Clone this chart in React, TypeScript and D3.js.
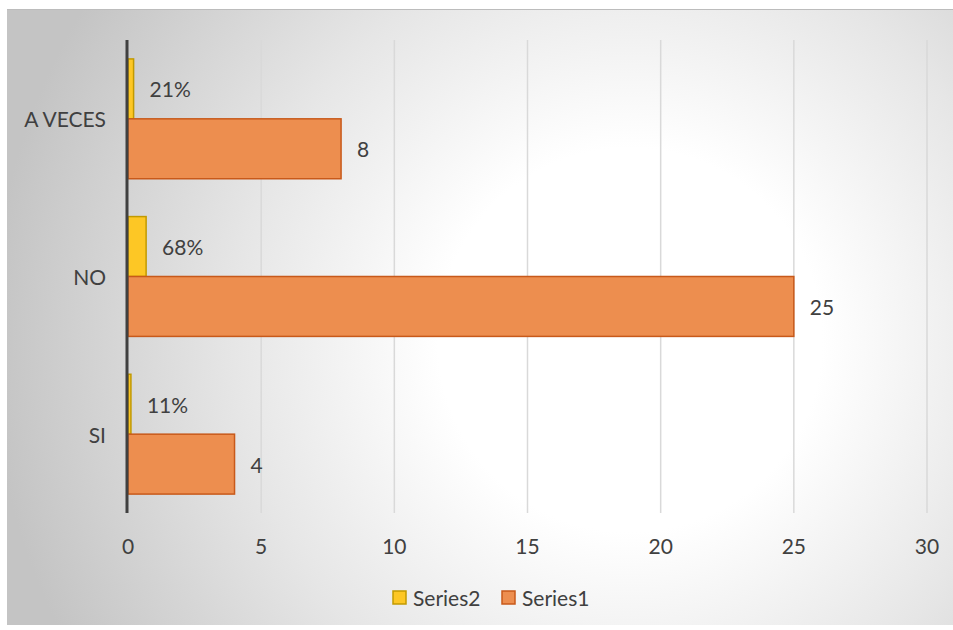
import * as d3 from "d3";

const categories = ["A VECES", "NO", "SI"];
const series1 = [8, 25, 4];
const series2 = [0.21, 0.68, 0.11];
const xTicks = [0, 5, 10, 15, 20, 25, 30];
const legendItems = ["Series2", "Series1"];

const W = 953;
const H = 630;
const FONT = "Lato, 'Open Sans', sans-serif";
const TXT = "#404040";
const ORANGE = "#ED8E4F";
const ORANGE_STROKE = "#C8591A";
const YELLOW = "#FDC725";
const YELLOW_STROKE = "#C29A00";

export default function App() {
  const plot = { left: 128, right: 927, top: 40, bottom: 513 };
  const x = d3.scaleLinear().domain([0, 30]).range([plot.left, plot.right]);
  const y = d3
    .scaleBand<string>()
    .domain(categories)
    .range([plot.top, plot.bottom])
    .paddingInner(0.24)
    .paddingOuter(0.12);
  const sub = d3.scaleBand<string>().domain(["s2", "s1"]).range([0, y.bandwidth()]);

  return (
    <svg width={W} height={H} style={{ position: "absolute", left: 0, top: 0 }} fontFamily={FONT}>
      <defs>
        <radialGradient id="bg" gradientUnits="userSpaceOnUse" cx={630} cy={340} r={640}>
          <stop offset="0" stopColor="#ffffff" />
          <stop offset="0.3" stopColor="#ffffff" />
          <stop offset="0.62" stopColor="#e6e6e6" />
          <stop offset="1" stopColor="#c4c4c4" />
        </radialGradient>
      </defs>
      <rect x={0} y={0} width={W} height={H} fill="#ffffff" />
      <rect x={7} y={9} width={W - 7} height={616} fill="url(#bg)" />
      <line x1={7} x2={W} y1={9.5} y2={9.5} stroke="#bcbcbc" strokeWidth={1} />

      {xTicks.map((t) => (
        <g key={t}>
          {t > 0 && (
            <line x1={x(t)} x2={x(t)} y1={plot.top} y2={plot.bottom} stroke="#d9d9d9" strokeWidth={1.5} />
          )}
          <text x={x(t)} y={545} textAnchor="middle" dominantBaseline="central" fontSize={21} fill={TXT}>
            {t}
          </text>
        </g>
      ))}

      {categories.map((c, i) => {
        const y0 = y(c) ?? 0;
        const y2 = y0 + (sub("s2") ?? 0);
        const y1 = y0 + (sub("s1") ?? 0);
        const bh = sub.bandwidth();
        return (
          <g key={c}>
            <rect x={x(0)} y={y2} width={x(series2[i]) - x(0)} height={bh} fill={YELLOW} stroke={YELLOW_STROKE} strokeWidth={1.5} />
            <rect x={x(0)} y={y1} width={x(series1[i]) - x(0)} height={bh} fill={ORANGE} stroke={ORANGE_STROKE} strokeWidth={1.5} />
            <text x={x(series2[i]) + 16} y={y2 + bh / 2} dominantBaseline="central" fontSize={21} fill={TXT}>
              {Math.round(series2[i] * 100)}%
            </text>
            <text x={x(series1[i]) + 16} y={y1 + bh / 2} dominantBaseline="central" fontSize={21} fill={TXT}>
              {series1[i]}
            </text>
            <text x={106} y={y0 + y.bandwidth() / 2} textAnchor="end" dominantBaseline="central" fontSize={21} fill={TXT}>
              {c}
            </text>
          </g>
        );
      })}

      <line x1={x(0) - 1} x2={x(0) - 1} y1={plot.top} y2={plot.bottom} stroke="#404040" strokeWidth={3} />

      {legendItems.map((s, i) => {
        const lx = i === 0 ? 393 : 502;
        return (
          <g key={s}>
            <rect x={lx} y={591} width={13} height={13} fill={i === 0 ? YELLOW : ORANGE} stroke={i === 0 ? YELLOW_STROKE : ORANGE_STROKE} strokeWidth={1.5} />
            <text x={lx + 20} y={597.5} dominantBaseline="central" fontSize={21} fill={TXT}>
              {s}
            </text>
          </g>
        );
      })}
    </svg>
  );
}
